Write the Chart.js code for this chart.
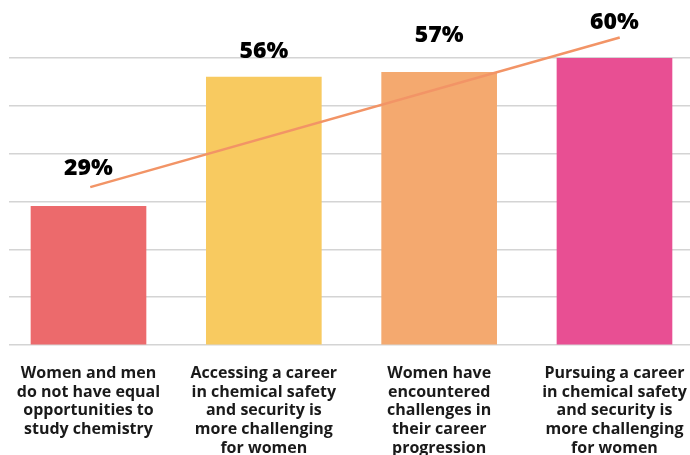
<!DOCTYPE html>
<html>
<head>
<meta charset="utf-8">
<script src="https://cdn.jsdelivr.net/npm/chart.js@4"></script>
<style>
  html, body { margin: 0; padding: 0; background: #fff; overflow: hidden; }
  #chart { display: block; }
</style>
</head>
<body>
<canvas id="chart" width="690" height="455"></canvas>
<script>
const categories = [
  ['Women and men', 'do not have equal', 'opportunities to', 'study chemistry'],
  ['Accessing a career', 'in chemical safety', 'and security is', 'more challenging', 'for women'],
  ['Women have', 'encountered', 'challenges in', 'their career', 'progression'],
  ['Pursuing a career', 'in chemical safety', 'and security is', 'more challenging', 'for women']
];
const percentages = [29, 56, 57, 60];
const barColors = ['#ec6a6c', '#f8ca60', '#f4a96f', '#e84f93'];
// trend line (start and end only)
const trendX = [0.01, 3.03];
const trendY = [33, 64.3];
const yTicks = [0, 10, 20, 30, 40, 50, 60];

document.addEventListener('DOMContentLoaded', () => {
  const fontFamily = "'Open Sans', 'DejaVu Sans', sans-serif";

  // draws the "NN%" labels above each bar
  const valueLabels = {
    id: 'valueLabels',
    afterDatasetsDraw(chart, args, opts) {
      const ctx = chart.ctx;
      const meta = chart.getDatasetMeta(0);
      ctx.save();
      ctx.fillStyle = '#000';
      ctx.font = `800 ${opts.size}px ${fontFamily}`;
      ctx.textAlign = 'center';
      ctx.textBaseline = 'middle';
      meta.data.forEach((bar, i) => {
        ctx.fillText(percentages[i] + '%', bar.x, bar.y - opts.offsets[i]);
      });
      ctx.restore();
    }
  };

  new Chart(document.getElementById('chart'), {
    data: {
      datasets: [
        {
          type: 'bar',
          data: percentages.map((v, i) => ({ x: i, y: v })),
          backgroundColor: barColors,
          barThickness: 115,
          order: 1
        },
        {
          type: 'line',
          data: trendX.map((x, i) => ({ x: x, y: trendY[i] })),
          borderColor: '#f29466',
          borderWidth: 2.5,
          pointRadius: 0,
          clip: false,
          order: 0
        }
      ]
    },
    options: {
      responsive: false,
      animation: false,
      devicePixelRatio: 1,
      layout: { padding: { top: 58, left: 0, right: 0, bottom: 0 } },
      scales: {
        x: {
          type: 'linear',
          offset: false,
          min: -0.4534,
          max: 3.4307,
          grid: { display: false, drawTicks: false, offset: false },
          border: { display: false },
          afterBuildTicks: (axis) => { axis.ticks = categories.map((c, i) => ({ value: i })); },
          afterFit: (axis) => {
            axis.height = 110;
            axis.paddingLeft = 0;
            axis.paddingRight = 0;
          },
          ticks: {
            autoSkip: false,
            maxRotation: 0,
            padding: 19,
            color: '#1a1a1a',
            font: { family: fontFamily, size: 16, weight: '700', lineHeight: 1.17 },
            callback: (v) => categories[v]
          }
        },
        y: {
          min: 0,
          max: 60,
          afterBuildTicks: (axis) => { axis.ticks = yTicks.map(v => ({ value: v })); },
          afterFit: (axis) => { axis.width = 9; },
          ticks: { display: false },
          border: { display: false },
          grid: { color: '#d4d4d4', lineWidth: 1.5, drawTicks: false }
        }
      },
      plugins: {
        legend: { display: false },
        tooltip: { enabled: false },
        valueLabels: { size: 23, offsets: [38, 26, 37, 36] }
      }
    },
    plugins: [valueLabels]
  });
});
</script>
</body>
</html>
